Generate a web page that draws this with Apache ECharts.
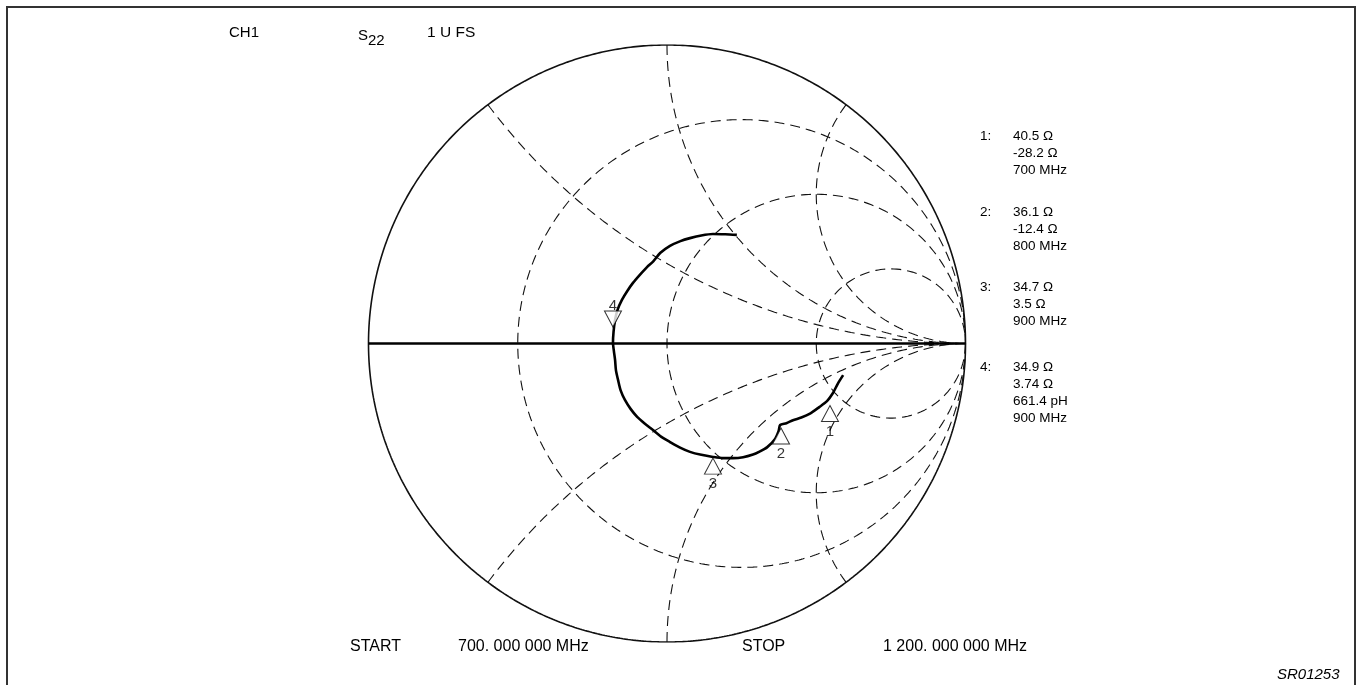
<!DOCTYPE html>
<html>
<head>
<meta charset="utf-8">
<script src="https://cdn.jsdelivr.net/npm/echarts@6/dist/echarts.min.js"></script>
<style>
  html, body { margin: 0; padding: 0; background: #fff; }
  #chart { width: 1360px; height: 685px; }
</style>
</head>
<body>
<div id="chart"></div>
<script>
// Smith chart grid (normalized impedance)
const resistanceCircles = [1 / 3, 1, 3];
const reactanceArcs = [0.5, 1, 2, -0.5, -1, -2];

// S22 trace as reflection coefficient, 700 MHz -> 1200 MHz
const traceRe = [0.590, 0.572, 0.556, 0.536, 0.510, 0.479, 0.450, 0.422, 0.400, 0.379, 0.374, 0.362, 0.335, 0.310, 0.288, 0.255, 0.221, 0.188, 0.154, 0.115, 0.077, 0.042, 0.010, -0.020, -0.047, -0.075, -0.100, -0.122, -0.141, -0.155, -0.164, -0.171, -0.174, -0.178, -0.181, -0.179, -0.174, -0.166, -0.151, -0.133, -0.114, -0.091, -0.067, -0.046, -0.023, 0.010, 0.045, 0.077, 0.115, 0.154, 0.195, 0.234];
const traceIm = [-0.106, -0.135, -0.166, -0.193, -0.213, -0.235, -0.248, -0.257, -0.267, -0.273, -0.293, -0.320, -0.348, -0.362, -0.372, -0.381, -0.384, -0.384, -0.380, -0.373, -0.363, -0.348, -0.330, -0.312, -0.290, -0.268, -0.246, -0.219, -0.189, -0.158, -0.122, -0.090, -0.055, -0.025, 0.002, 0.040, 0.079, 0.112, 0.146, 0.176, 0.203, 0.230, 0.256, 0.275, 0.303, 0.327, 0.343, 0.353, 0.362, 0.367, 0.366, 0.364];

// Markers on the trace
const markerNames = ['1', '2', '3', '4'];
const markerRe = [0.546, 0.382, 0.154, -0.181];
const markerIm = [-0.208, -0.283, -0.384, 0.055];

// Marker readout
const readoutIds = ['1:', '2:', '3:', '4:'];
const readoutLines = [
  ['40.5 Ω', '-28.2 Ω', '700 MHz'],
  ['36.1 Ω', '-12.4 Ω', '800 MHz'],
  ['34.7 Ω', '3.5 Ω', '900 MHz'],
  ['34.9 Ω', '3.74 Ω', '661.4 pH', '900 MHz']
];

// Header / footer text
const headerChannel = 'CH1';
const headerParam = 'S';
const headerParamSub = '22';
const headerScale = '1 U FS';
const startLabel = 'START';
const startFreq = '700. 000 000 MHz';
const stopLabel = 'STOP';
const stopFreq = '1 200. 000 000 MHz';
const figureId = 'SR01253';

// z = r + jx  ->  Γ = (z - 1) / (z + 1)
function gamma(r, x) {
  const d = (r + 1) * (r + 1) + x * x;
  return [(r * r + x * x - 1) / d, (2 * x) / d];
}
function resistanceCurve(r) {
  const pts = [];
  for (let i = 1; i < 720; i++) {
    const th = -Math.PI / 2 + Math.PI * i / 720;
    pts.push(gamma(r, Math.tan(th)));
  }
  pts.unshift([1, 0]);
  pts.push([1, 0]);
  return pts;
}
function reactanceCurve(x) {
  const pts = [];
  for (let i = 0; i < 600; i++) {
    const t = i / 600;
    pts.push(gamma(t / (1 - t), x));
  }
  pts.push([1, 0]);
  return pts;
}

const font = '"Liberation Sans", Arial, sans-serif';
const ink = '#000';
const dash = { color: '#111', width: 1.1, type: [10, 6] };

const series = [];
resistanceCircles.forEach(r => series.push({
  type: 'line', data: resistanceCurve(r), showSymbol: false, silent: true,
  lineStyle: dash, z: 1
}));
reactanceArcs.forEach(x => series.push({
  type: 'line', data: reactanceCurve(x), showSymbol: false, silent: true,
  lineStyle: dash, z: 1
}));
// outer boundary |Γ| = 1
series.push({
  type: 'line', data: resistanceCurve(0), showSymbol: false, silent: true,
  lineStyle: { color: '#111', width: 1.6 }, z: 2
});
// real axis
series.push({
  type: 'line', data: [[-1, 0], [1, 0]], showSymbol: false, silent: true,
  lineStyle: { color: '#000', width: 2.6 }, z: 2
});
// measured trace
series.push({
  type: 'line', data: traceRe.map((v, i) => [v, traceIm[i]]),
  showSymbol: false, silent: true, smooth: 0.25,
  lineStyle: { color: '#000', width: 2.6 }, z: 3
});
// markers
series.push({
  type: 'scatter', silent: true, z: 4,
  data: markerNames.map((n, i) => {
    const down = n === '4';
    return {
      value: [markerRe[i], markerIm[i]],
      name: n,
      symbolRotate: down ? 180 : 0,
      symbolOffset: down ? [0, '-50%'] : [0, '50%'],
      label: { position: down ? 'top' : 'bottom', distance: down ? -3 : 2 }
    };
  }),
  symbol: 'triangle',
  symbolSize: [17, 16],
  itemStyle: { color: '#fff', borderColor: '#000', borderWidth: 1 },
  label: {
    show: true, formatter: p => p.name, color: ink,
    fontFamily: 'Liberation Sans', fontSize: 15
  }
});

const graphics = [];
// frame
graphics.push({
  type: 'polyline', silent: true,
  shape: { points: [[7, 700], [7, 7], [1355, 7], [1355, 700]] },
  style: { stroke: '#333', lineWidth: 2, fill: null }
});
function txt(text, x, y, size, extra) {
  graphics.push({
    type: 'text', silent: true, x: x, y: y,
    style: Object.assign({
      text: text, fill: ink, font: size + 'px ' + font,
      align: 'left', verticalAlign: 'middle'
    }, extra || {})
  });
}
txt(headerChannel, 229, 33, 15);
graphics.push({
  type: 'text', silent: true, x: 358, y: 34,
  style: {
    text: '{s|' + headerParam + '}{b|' + headerParamSub + '}',
    verticalAlign: 'middle',
    rich: {
      s: { font: '15px ' + font, fill: ink, verticalAlign: 'bottom', lineHeight: 18 },
      b: { font: '15px ' + font, fill: ink, verticalAlign: 'bottom', padding: [0, 0, -5, 0], lineHeight: 18 }
    }
  }
});
txt(headerScale, 427, 33, 15.5);

const groupTop = [136, 212, 287, 367];
readoutIds.forEach((id, g) => {
  txt(id, 980, groupTop[g], 13.5);
  readoutLines[g].forEach((line, k) => txt(line, 1013, groupTop[g] + k * 17, 13.5));
});

txt(startLabel, 350, 647, 16);
txt(startFreq, 458, 647, 16);
txt(stopLabel, 742, 647, 16);
txt(stopFreq, 883, 647, 16);
txt(figureId, 1277, 675, 15, { font: 'italic 15px ' + font });

const chart = echarts.init(document.getElementById('chart'), null, { renderer: 'canvas' });
chart.setOption({
  animation: false,
  backgroundColor: '#fff',
  grid: { left: 368.5, top: 45, width: 597, height: 597, containLabel: false },
  xAxis: { type: 'value', min: -1, max: 1, show: false },
  yAxis: { type: 'value', min: -1, max: 1, show: false },
  series: series,
  graphic: graphics
});
</script>
</body>
</html>
